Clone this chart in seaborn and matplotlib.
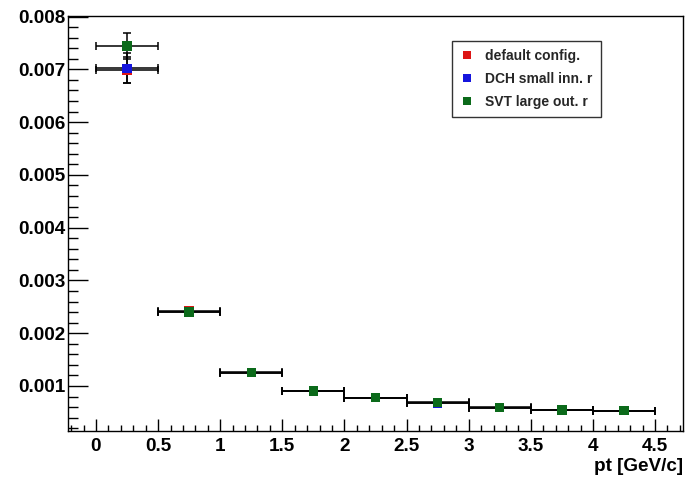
import matplotlib
matplotlib.use("Agg")
import matplotlib.pyplot as plt
from matplotlib.ticker import MultipleLocator, FixedLocator
import seaborn as sns
import pandas as pd

# ---- data ----
pt_centers = [0.25, 0.75, 1.25, 1.75, 2.25, 2.75, 3.25, 3.75, 4.25]
pt_halfwidth = [0.25, 0.25, 0.25, 0.25, 0.25, 0.25, 0.25, 0.25, 0.25]
series_names = ["default config.", "DCH small inn. r", "SVT large out. r"]
default_vals = [0.00699, 0.00243, 0.00126, 0.000905, 0.000778, 0.000690, 0.000592, 0.000547, 0.000532]
dch_vals = [0.00702, 0.00240, 0.00125, 0.000905, 0.000778, 0.000670, 0.000596, 0.000548, 0.000532]
svt_vals = [0.00744, 0.00240, 0.00125, 0.000905, 0.000778, 0.000685, 0.000589, 0.000545, 0.000532]
default_err = [0.00025, 0.00004, 0.00002, 0.00001, 0.00001, 0.00001, 0.00001, 0.00001, 0.00001]
dch_err = [0.00028, 0.00004, 0.00002, 0.00001, 0.00001, 0.00001, 0.00001, 0.00001, 0.00001]
svt_err = [0.00025, 0.00004, 0.00002, 0.00001, 0.00001, 0.00001, 0.00001, 0.00001, 0.00001]
x_tick_vals = [0, 0.5, 1, 1.5, 2, 2.5, 3, 3.5, 4, 4.5]
x_tick_labels = ["0", "0.5", "1", "1.5", "2", "2.5", "3", "3.5", "4", "4.5"]
y_tick_vals = [0.001, 0.002, 0.003, 0.004, 0.005, 0.006, 0.007, 0.008]
y_tick_labels = ["0.001", "0.002", "0.003", "0.004", "0.005", "0.006", "0.007", "0.008"]
x_title = "pt [GeV/c]"

colors = {"default config.": "#dd1515", "DCH small inn. r": "#1515dd", "SVT large out. r": "#0b6a1a"}

rows = []
for name, vals, errs in zip(series_names, [default_vals, dch_vals, svt_vals],
                            [default_err, dch_err, svt_err]):
    for x, xe, y, ye in zip(pt_centers, pt_halfwidth, vals, errs):
        rows.append({"pt": x, "xerr": xe, "val": y, "yerr": ye, "config": name})
df = pd.DataFrame(rows)

sns.set_theme(style="white")
plt.rcParams["font.family"] = ["Liberation Sans", "DejaVu Sans"]
plt.rcParams["font.weight"] = "bold"

fig = plt.figure(figsize=(6.92, 4.78), dpi=100)
ax = fig.add_axes([68 / 692, 1 - 431 / 478, (683 - 68) / 692, (431 - 16) / 478])

for name in series_names:
    sub = df[df["config"] == name]
    ax.errorbar(sub["pt"], sub["val"], xerr=sub["xerr"], yerr=sub["yerr"],
                fmt="none", ecolor="black", elinewidth=1.1, capsize=2.6,
                capthick=1.1, zorder=2)

sns.scatterplot(data=df, x="pt", y="val", hue="config", hue_order=series_names,
                palette=colors, marker="s", s=46, linewidth=0, ax=ax,
                zorder=3, legend=False)

ax.set_xlim(-0.225, 4.725)
ax.set_ylim(0.000147, 0.00801)

ax.xaxis.set_major_locator(FixedLocator(x_tick_vals))
ax.set_xticklabels(x_tick_labels)
ax.xaxis.set_minor_locator(MultipleLocator(0.1))
ax.yaxis.set_major_locator(FixedLocator(y_tick_vals))
ax.set_yticklabels(y_tick_labels)
ax.yaxis.set_minor_locator(MultipleLocator(0.0002))

ax.tick_params(axis="both", which="both", direction="in", colors="black",
               top=False, right=False, bottom=True, left=True)
ax.tick_params(axis="y", which="major", length=14.4, width=1.0, pad=2,
               labelsize=13.6)
ax.tick_params(axis="y", which="minor", length=7.2, width=1.0)
ax.tick_params(axis="x", which="major", length=8.6, width=1.0, pad=5,
               labelsize=13.6)
ax.tick_params(axis="x", which="minor", length=4.6, width=1.0)
for lab in ax.get_xticklabels() + ax.get_yticklabels():
    lab.set_fontweight("bold")

for sp in ax.spines.values():
    sp.set_color("black")
    sp.set_linewidth(1.0)

ax.set_xlabel(x_title, fontsize=13.6, fontweight="bold", loc="right",
              labelpad=2, color="black")
ax.set_ylabel("")

handles = [plt.Line2D([], [], marker="s", linestyle="none", markersize=6,
                      markerfacecolor=colors[n], markeredgewidth=0) for n in series_names]
leg = ax.legend(handles, series_names, loc="upper left",
                bbox_to_anchor=((452 - 68) / 615, (431 - 41) / 415),
                frameon=True, fancybox=False, shadow=False,
                prop={"weight": "bold", "size": 10.0},
                handlelength=1.0, handletextpad=0.8, labelspacing=0.62,
                borderpad=0.6, borderaxespad=0.0)
leg.get_frame().set_edgecolor("black")
leg.get_frame().set_linewidth(1.0)
leg.get_frame().set_facecolor("white")

fig.savefig("out.png", dpi=100)
